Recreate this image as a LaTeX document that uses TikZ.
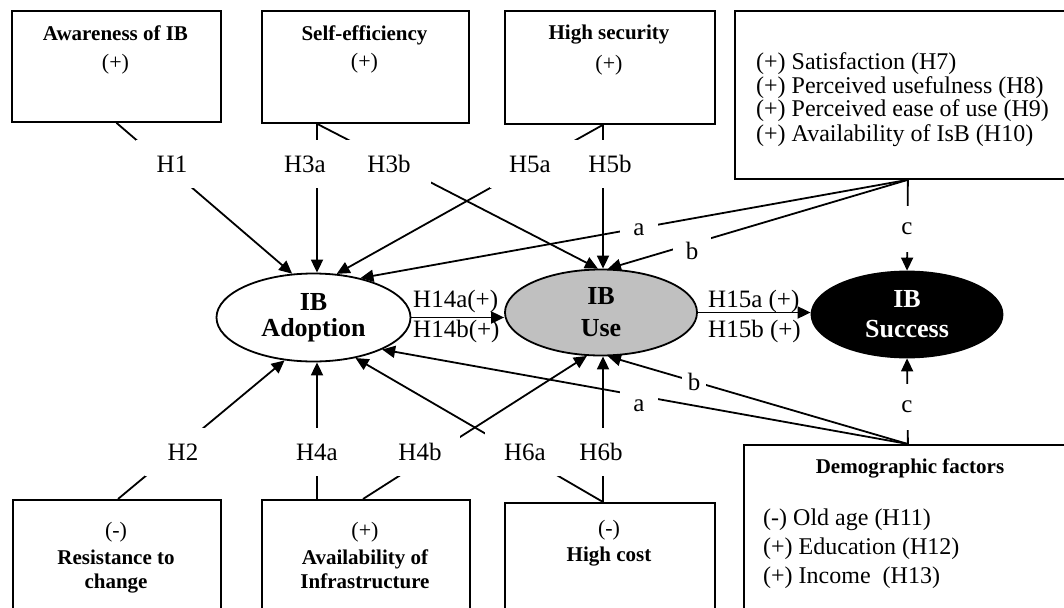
\documentclass[tikz,border=0pt]{standalone}
\usepackage{fontspec}
\setmainfont{Liberation Serif}
\usetikzlibrary{arrows.meta,shapes.geometric,calc}
\definecolor{usegray}{HTML}{C0C0C0}

\begin{document}
\begin{tikzpicture}[x=1pt,y=-1pt,
  frame/.style={draw, line width=1.8pt, anchor=north west, inner sep=0pt},
  arr/.style={line width=1.8pt, -{Triangle[length=13pt,width=12pt]}},
  hyp/.style={fill=white, inner sep=0pt, minimum height=48pt, minimum width=80pt,
              font=\fontsize{25}{25}\selectfont},
  letter/.style={fill=white, inner sep=0pt, minimum width=38pt, minimum height=30pt,
                 font=\fontsize{25}{25}\selectfont},
  lbl/.style={inner sep=0pt, anchor=base west, font=\fontsize{25}{25}\selectfont},
  btitle/.style={inner sep=0pt, anchor=base, font=\fontsize{21}{21}\selectfont\bfseries},
  ptext/.style={inner sep=0pt, anchor=base, font=\fontsize{22}{22}\selectfont},
  item/.style={inner sep=0pt, anchor=base west, font=\fontsize{24}{24}\selectfont},
  ditem/.style={inner sep=0pt, anchor=base west, font=\fontsize{24}{24}\selectfont},
  construct/.style={ellipse, draw, line width=1.8pt, inner sep=0pt, align=center}
]
\useasboundingbox (0,0) rectangle (1064,607);
\clip (0,0) rectangle (1064,607);
\fill[white] (0,0) rectangle (1064,607);

% ---- factor boxes ----
\node[frame, minimum width=209pt, minimum height=111pt] (aware)   at (11,10)  {};
\node[frame, minimum width=207pt, minimum height=112pt] (selfeff) at (261,10) {};
\node[frame, minimum width=210pt, minimum height=113pt] (secur)   at (504,10) {};
\node[frame, minimum width=346pt, minimum height=168pt] (factors) at (734,10) {};
\node[frame, minimum width=208pt, minimum height=130pt] (resist)  at (12,499) {};
\node[frame, minimum width=208pt, minimum height=130pt] (infra)   at (261,499) {};
\node[frame, minimum width=210pt, minimum height=130pt] (cost)    at (504,502) {};
\node[frame, minimum width=328pt, minimum height=190pt] (demo)    at (743,444) {};

% ---- constructs ----
\node[construct, minimum width=194pt, minimum height=88pt,
      font=\fontsize{26}{26}\selectfont\bfseries] (adopt) at (313.5,317.5) {IB\\Adoption};
\node[construct, fill=usegray, minimum width=192pt, minimum height=86pt,
      font=\fontsize{26}{32}\selectfont\bfseries] (use) at (601,312.5) {IB\\Use};
\node[construct, fill=black, text=white, minimum width=191pt, minimum height=86pt,
      font=\fontsize{26}{30}\selectfont\bfseries] (succ) at (907,314.5) {IB\\Success};

% ---- connection points on the boxes ----
\coordinate (s3)  at ($(selfeff.south west)+(56,0)$);
\coordinate (s5)  at ($(secur.south west)+(99,0)$);
\coordinate (s2)  at ($(resist.north west)+(106,0)$);
\coordinate (s4a) at ($(infra.north west)+(56,0)$);
\coordinate (s4b) at ($(infra.north west)+(102,0)$);
\coordinate (s6)  at ($(cost.north west)+(99,0)$);

% ---- hypotheses paths ----
\draw[arr] (aware.south) -- (adopt.116);
\draw[arr] (s3) -- (s3 |- adopt.north);
\draw[arr] (s3) -- (use.94);
\draw[arr] (s5) -- (adopt.62);
\draw[arr] (s5) -- (s5 |- use.north);
\draw[arr] (factors.south) -- (adopt.40);
\draw[arr] (factors.south) -- (use.81);
\draw[arr] (factors.south) -- (succ.north);
\draw[arr] (s2) -- (adopt.236);
\draw[arr] (s4a) -- (s4a |- adopt.south);
\draw[arr] (s4b) -- (use.252);
\draw[arr] (s6) -- (adopt.316);
\draw[arr] (s6) -- (s6 |- use.south);
\draw[arr] (demo.north) -- (adopt.335);
\draw[arr] (demo.north) -- (use.279);
\draw[arr] (demo.north) -- (succ.south);
\draw[arr] (adopt.east) -- (adopt.east -| use.west);
\draw[arr] (use.east) -- (use.east -| succ.west);

% ---- path labels ----
\node[hyp, minimum width=72pt] (lh1)  at (172,164) {H1};
\node[hyp, minimum width=84pt] (lh3a) at (305,164) {H3a};
\node[hyp, minimum width=84pt] (lh3b) at (389,164) {H3b};
\node[hyp] (lh5a) at (530,164) {H5a};
\node[hyp] (lh5b) at (610,164) {H5b};
\node[hyp, minimum width=76pt] (lh2)  at (183,452) {H2};
\node[hyp] (lh4a) at (317,452) {H4a};
\node[hyp] (lh4b) at (420,452) {H4b};
\node[hyp] (lh6a) at (525,452) {H6a};
\node[hyp] (lh6b) at (601,452) {H6b};

\node[letter] (la1) at (639,230) {a};
\node[letter] (lb1) at (692,251) {b};
\node[letter, minimum width=14pt, minimum height=46pt] (lc1) at (907,229) {c};
\node[letter] (la2) at (639,406) {a};
\node[letter, minimum width=24pt] (lb2) at (694,382) {b};
\node[letter, minimum width=14pt, minimum height=46pt] (lc2) at (907,407) {c};

\node[lbl] (h14a) at (413,307) {H14a(+)};
\node[lbl] (h14b) at (413,337) {H14b(+)};
\node[lbl] (h15a) at (708,307) {H15a (+)};
\node[lbl] (h15b) at (708,337) {H15b (+)};

% ---- box texts ----
\node[btitle] (awt) at (115.5,41) {Awareness of IB};
\node[ptext]  (aws) at (115.5,70) {(+)};
\node[btitle] (set) at (364.5,41) {Self-efficiency};
\node[ptext]  (ses) at (364.5,69) {(+)};
\node[btitle] (hst) at (609,40) {High security};
\node[ptext]  (hss) at (609,71) {(+)};

\node[item] (f7)  at (756,70)  {(+) Satisfaction (H7)};
\node[item] (f8)  at (756,94)  {(+) Perceived usefulness (H8)};
\node[item] (f9)  at (756,117) {(+) Perceived ease of use (H9)};
\node[item] (f10) at (756,141) {(+) Availability of IsB (H10)};

\node[ptext]  (rss) at (116,537) {(-)};
\node[btitle] (rt1) at (116,564) {Resistance to};
\node[btitle] (rt2) at (116,588) {change};
\node[ptext]  (ifs) at (365,537) {(+)};
\node[btitle] (it1) at (365,564) {Availability of};
\node[btitle] (it2) at (365,588) {Infrastructure};
\node[ptext]  (hcs) at (609,535) {(-)};
\node[btitle] (hct) at (609,561) {High cost};

\node[btitle] (dmt) at (910,473) {Demographic factors};
\node[ditem] (d11) at (763,525) {(-) Old age (H11)};
\node[ditem] (d12) at (763,554) {(+) Education (H12)};
\node[ditem] (d13) at (763,583) {(+) Income\ \ (H13)};
\end{tikzpicture}
\end{document}
